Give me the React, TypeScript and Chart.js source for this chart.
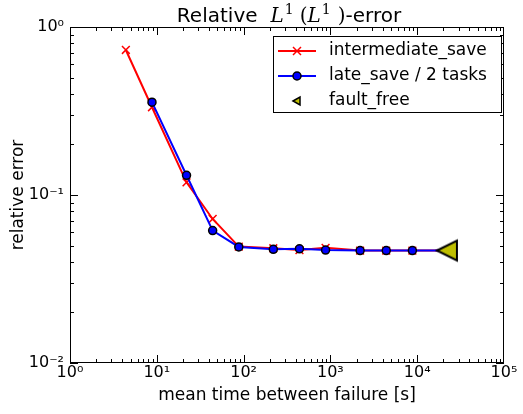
import React, { useEffect, useRef } from 'react';
import { Chart, registerables } from 'chart.js';

Chart.register(...registerables);

// ---------- data ----------
const intermediateX = [4.4, 8.8, 22, 44, 88, 220, 440, 880, 2200, 4400, 8800, 22000];
const intermediateY = [0.73, 0.333, 0.119, 0.072, 0.0493, 0.0482, 0.047, 0.0485, 0.0467, 0.0467, 0.0467, 0.0467];
const lateX = [8.8, 22, 44, 88, 220, 440, 880, 2200, 4400, 8800, 22000];
const lateY = [0.357, 0.131, 0.0614, 0.0491, 0.0475, 0.0478, 0.047, 0.0467, 0.0467, 0.0467, 0.0467];
const faultX = [22000];
const faultY = [0.0467];
const seriesLabels = ['intermediate_save', 'late_save / 2 tasks', 'fault_free'];
const xAxisTitle = 'mean time between failure [s]';
const yAxisTitle = 'relative error';
const xMin = 1;
const xMax = 100000;
const yMin = 0.01;
const yMax = 1;

const RED = '#ff0000';
const BLUE = '#0000ff';
const OLIVE = '#bfbf00';
const FONT = 'DejaVu Sans';

const SUP: Record<string, string> = { '0': '⁰', '1': '¹', '2': '²', '3': '³', '4': '⁴', '5': '⁵', '-': '⁻' };
const powLabel = (v: number) => {
  const l = Math.log10(v);
  const r = Math.round(l);
  if (Math.abs(l - r) > 1e-6) return '';
  return '10' + String(r).split('').map((c) => SUP[c] || c).join('');
};

const zip = (xs: number[], ys: number[]) => xs.map((x, i) => ({ x, y: ys[i] }));

function makeTriangle(): HTMLCanvasElement {
  const c = document.createElement('canvas');
  c.width = 26;
  c.height = 26;
  const g = c.getContext('2d')!;
  g.beginPath();
  g.moveTo(3, 13);
  g.lineTo(23, 3);
  g.lineTo(23, 23);
  g.closePath();
  g.fillStyle = OLIVE;
  g.fill();
  g.lineWidth = 2;
  g.strokeStyle = '#000';
  g.lineJoin = 'miter';
  g.stroke();
  return c;
}

const framePlugin = {
  id: 'frameTicks',
  afterDatasetsDraw(chart: any) {
    const { ctx, chartArea, scales } = chart;
    const { left, right, top, bottom } = chartArea;
    const xs = scales.x;
    const ys = scales.y;
    ctx.save();
    ctx.strokeStyle = '#000';
    ctx.lineWidth = 1;
    ctx.beginPath();
    for (let e = 0; e < 5; e++) {
      for (let m = 1; m < 10; m++) {
        const v = m * Math.pow(10, e);
        const px = Math.round(xs.getPixelForValue(v)) + 0.5;
        const len = m === 1 ? 8 : 4;
        ctx.moveTo(px, bottom);
        ctx.lineTo(px, bottom - len);
        ctx.moveTo(px, top);
        ctx.lineTo(px, top + len);
      }
    }
    for (let e = -2; e < 0; e++) {
      for (let m = 1; m < 10; m++) {
        const v = m * Math.pow(10, e);
        const py = Math.round(ys.getPixelForValue(v)) + 0.5;
        const len = m === 1 ? 8 : 4;
        ctx.moveTo(left, py);
        ctx.lineTo(left + len, py);
        ctx.moveTo(right, py);
        ctx.lineTo(right - len, py);
      }
    }
    ctx.stroke();
    ctx.strokeRect(left + 0.5, top + 0.5, right - left - 1, bottom - top - 1);
    ctx.restore();
  },
};

const legendPlugin = {
  id: 'boxLegend',
  afterDraw(chart: any) {
    const { ctx, chartArea } = chart;
    const bx = chartArea.right - 231;
    const by = chartArea.top + 9;
    const bw = 228;
    const bh = 76;
    ctx.save();
    ctx.fillStyle = '#fff';
    ctx.fillRect(bx, by, bw, bh);
    ctx.strokeStyle = '#000';
    ctx.lineWidth = 1;
    ctx.strokeRect(bx + 0.5, by + 0.5, bw, bh);
    const rows = [by + 15, by + 40, by + 65];
    const x0 = bx + 5;
    const x1 = bx + 43;
    const xm = (x0 + x1) / 2;
    // row 1: red line with x
    ctx.lineWidth = 2;
    ctx.strokeStyle = RED;
    ctx.beginPath();
    ctx.moveTo(x0, rows[0]);
    ctx.lineTo(x1, rows[0]);
    ctx.stroke();
    ctx.lineWidth = 1.5;
    ctx.beginPath();
    ctx.moveTo(xm - 4, rows[0] - 4);
    ctx.lineTo(xm + 4, rows[0] + 4);
    ctx.moveTo(xm - 4, rows[0] + 4);
    ctx.lineTo(xm + 4, rows[0] - 4);
    ctx.stroke();
    // row 2: blue line with circle
    ctx.lineWidth = 2;
    ctx.strokeStyle = BLUE;
    ctx.beginPath();
    ctx.moveTo(x0, rows[1]);
    ctx.lineTo(x1, rows[1]);
    ctx.stroke();
    ctx.beginPath();
    ctx.arc(xm, rows[1], 4, 0, Math.PI * 2);
    ctx.fillStyle = BLUE;
    ctx.fill();
    ctx.lineWidth = 1.5;
    ctx.strokeStyle = '#000';
    ctx.stroke();
    // row 3: small triangle
    ctx.beginPath();
    ctx.moveTo(xm - 4, rows[2]);
    ctx.lineTo(xm + 3, rows[2] - 4);
    ctx.lineTo(xm + 3, rows[2] + 4);
    ctx.closePath();
    ctx.fillStyle = OLIVE;
    ctx.fill();
    ctx.lineWidth = 1.5;
    ctx.strokeStyle = '#000';
    ctx.stroke();
    // labels
    ctx.fillStyle = '#000';
    ctx.font = `17px "${FONT}"`;
    ctx.textBaseline = 'middle';
    ctx.textAlign = 'left';
    seriesLabels.forEach((t, i) => ctx.fillText(t, bx + 56, rows[i]));
    ctx.restore();
  },
};

type Piece = { text: string; font: string; dy: number; gap: number };
const titlePlugin = {
  id: 'mathTitle',
  afterDraw(chart: any) {
    const { ctx, chartArea } = chart;
    const sans = `20px "${FONT}"`;
    const it = 'italic 20px "DejaVu Serif"';
    const serif = '20px "DejaVu Serif"';
    const sup = '14px "DejaVu Serif"';
    const pieces: Piece[] = [
      { text: 'Relative', font: sans, dy: 0, gap: 0 },
      { text: 'L', font: it, dy: 0, gap: 13 },
      { text: '1', font: sup, dy: -8, gap: 1 },
      { text: '(', font: serif, dy: 0, gap: 6 },
      { text: 'L', font: it, dy: 0, gap: 0 },
      { text: '1', font: sup, dy: -8, gap: 1 },
      { text: ')', font: serif, dy: 0, gap: 7 },
      { text: '-error', font: sans, dy: 0, gap: 0 },
    ];
    ctx.save();
    let total = 0;
    const widths = pieces.map((p) => {
      ctx.font = p.font;
      const w = ctx.measureText(p.text).width;
      total += p.gap + w;
      return w;
    });
    let x = (chartArea.left + chartArea.right) / 2 + 2 - total / 2;
    const base = chartArea.top - 5;
    ctx.fillStyle = '#000';
    ctx.textBaseline = 'alphabetic';
    ctx.textAlign = 'left';
    pieces.forEach((p, i) => {
      x += p.gap;
      ctx.font = p.font;
      ctx.fillText(p.text, x, base + p.dy);
      x += widths[i];
    });
    ctx.restore();
  },
};

export default function App() {
  const ref = useRef<HTMLCanvasElement | null>(null);

  useEffect(() => {
    if (!ref.current) return;
    Chart.defaults.color = '#000';
    Chart.defaults.font.family = FONT;
    const tri = makeTriangle();
    const lastRed = intermediateX.length - 1;
    const lastBlue = lateX.length - 1;
    const chart = new Chart(ref.current, {
      type: 'scatter',
      data: {
        datasets: [
          {
            label: seriesLabels[0],
            data: zip(intermediateX, intermediateY),
            showLine: true,
            borderColor: RED,
            borderWidth: 2,
            pointStyle: 'crossRot',
            pointRadius: (c: any) => (c.dataIndex === lastRed ? 0 : 5.5),
            pointBorderColor: RED,
            pointBackgroundColor: RED,
            pointBorderWidth: 1.5,
            order: 3,
          },
          {
            label: seriesLabels[1],
            data: zip(lateX, lateY),
            showLine: true,
            borderColor: BLUE,
            borderWidth: 2,
            pointStyle: 'circle',
            pointRadius: (c: any) => (c.dataIndex === lastBlue ? 0 : 4),
            pointBorderColor: '#000',
            pointBackgroundColor: BLUE,
            pointBorderWidth: 1.5,
            order: 2,
          },
          {
            label: seriesLabels[2],
            data: zip(faultX, faultY),
            showLine: false,
            pointStyle: tri as any,
            pointRadius: 10,
            order: 1,
          },
        ],
      },
      options: {
        responsive: false,
        animation: false,
        events: [],
        layout: { padding: { top: 27, right: 19, left: 0, bottom: 0 } },
        plugins: {
          legend: { display: false },
          title: { display: false },
          tooltip: { enabled: false },
        },
        scales: {
          x: {
            type: 'logarithmic',
            min: xMin,
            max: xMax,
            grid: { display: false, drawTicks: false },
            border: { display: false },
            ticks: {
              autoSkip: false,
              maxRotation: 0,
              padding: 0,
              font: { family: FONT, size: 16 },
              color: '#000',
              callback: (v: any) => powLabel(Number(v)),
            },
            title: {
              display: true,
              text: xAxisTitle,
              font: { family: FONT, size: 17 },
              color: '#000',
              padding: { top: 0, bottom: 8 },
            },
            afterFit: (s: any) => {
              s.height = 51;
            },
          },
          y: {
            type: 'logarithmic',
            min: yMin,
            max: yMax,
            grid: { display: false, drawTicks: false },
            border: { display: false },
            ticks: {
              autoSkip: false,
              padding: 6,
              font: { family: FONT, size: 16 },
              color: '#000',
              callback: (v: any) => powLabel(Number(v)),
            },
            title: {
              display: true,
              text: yAxisTitle,
              font: { family: FONT, size: 17 },
              color: '#000',
              padding: { top: 8, bottom: 0 },
            },
            afterFit: (s: any) => {
              s.width = 70;
            },
          },
        },
      } as any,
      plugins: [framePlugin, legendPlugin, titlePlugin],
    });
    return () => chart.destroy();
  }, []);

  return (
    <div style={{ position: 'fixed', left: 0, top: 0, width: 523, height: 414, background: '#fff' }}>
      <canvas ref={ref} width={523} height={414} style={{ display: 'block' }} />
    </div>
  );
}
